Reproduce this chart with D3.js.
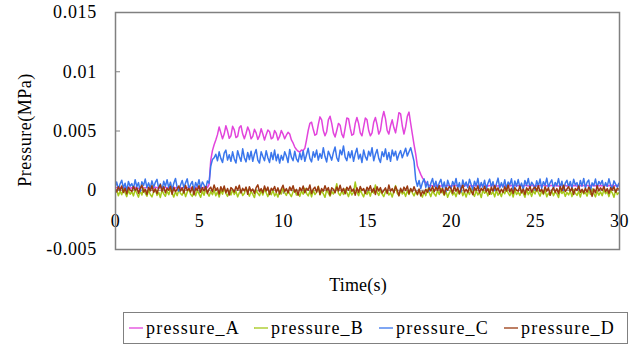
<!DOCTYPE html>
<html>
<head>
<meta charset="utf-8">
<script src="https://cdn.jsdelivr.net/npm/d3@7/dist/d3.min.js"></script>
<style>
  body { margin: 0; background: #fff; }
</style>
</head>
<body>
<div id="chart"></div>
<script>
// pressure readings in units of 1e-5 MPa, one sample every 0.1 s from 0 to 30 s
const pressureA = [
  14,18,12,20,16,11,19,15,22,13,
  17,12,21,15,10,18,23,14,16,20,
  12,19,15,11,22,17,13,20,16,14,
  21,15,18,12,16,23,14,19,11,17,
  15,20,13,18,22,12,17,14,21,16,
  13,19,16,22,14,18,45,250,330,380,
  420,465,530,480,430,470,540,495,435,455,
  535,505,440,450,525,540,470,430,475,530,
  495,430,450,510,480,425,455,515,470,420,
  465,505,490,430,440,500,475,420,450,500,
  470,430,460,485,470,420,395,360,340,325,
  318,335,330,350,420,500,560,570,510,460,
  470,550,615,590,500,455,490,590,620,560,
  480,445,500,560,545,470,440,520,605,600,
  520,460,470,560,610,560,480,455,530,605,
  590,500,455,480,570,610,550,470,500,600,
  660,600,500,470,540,590,525,480,560,650,
  640,540,470,530,620,655,560,470,380,300,
  200,165,130,100,80,60,45,38,35,33,
  36,32,38,34,31,37,35,33,39,34,
  32,36,34,38,33,35,31,37,34,36,
  38,33,35,31,36,34,39,32,35,37,
  34,37,32,36,35,33,38,34,31,36,
  35,31,37,34,38,32,36,35,33,37,
  33,38,34,32,36,37,31,35,38,34,
  36,34,31,37,33,35,38,32,36,34,
  37,33,36,34,31,38,35,33,37,32,
  34,36,38,33,35,31,37,34,36,35,
  32,37,34,36,38,33,35,31,36,34,
  35,33,37,32,36,34,38,35,33,36,
  34
];

const pressureB = [
  -30,0,-50,-12,-42,10,-25,-58,-5,-38,
  -15,-52,2,-30,-62,-8,-45,12,-28,-55,
  -5,-40,-60,-18,8,-48,-22,-65,-2,-35,
  -55,-10,-42,6,-28,-62,-15,-50,0,-32,
  -45,-6,-58,-20,12,-38,-56,-12,-50,-4,
  -35,-64,-10,-46,4,-28,-54,-15,-42,-2,
  -50,-18,-62,-6,-38,14,-30,-56,-10,-44,
  0,-40,-14,-60,-25,-5,-48,-32,16,-22,
  -54,-12,-38,-66,-2,-30,-50,-8,-44,8,
  -26,-58,-14,-42,-4,-52,-28,-62,-10,-36,
  10,-24,-48,-6,-34,-58,-16,0,-44,-26,
  -56,-8,-38,12,-30,-52,-12,-60,-2,-40,
  -22,30,-44,-8,-34,-64,0,-28,-54,-14,
  -36,-4,50,-30,-48,-10,-40,6,-24,-58,
  -8,-44,-22,65,-18,-50,-2,-32,-60,-12,
  -40,-10,-54,0,-28,40,-20,-48,-6,-36,
  -58,-16,-2,-44,-24,-62,-10,35,-30,-50,
  0,-36,-18,-56,-8,-40,8,-26,-52,-12,
  -44,-2,-32,-62,-14,-50,4,-24,-58,-8,
  -34,-54,-6,-40,10,-20,-48,-12,-64,-26,
  -4,-44,-22,-58,-10,-36,6,-50,-18,-62,
  -14,-40,8,-28,-56,-6,-44,-22,-66,0,
  -30,-12,-52,4,-38,-18,-60,-2,-46,-24,
  -58,-8,-34,6,-26,-50,-12,-62,0,-40,
  -20,-48,-4,-30,-64,2,-42,-14,-56,-8,
  -36,8,-24,-54,-10,-40,-2,-60,-28,-46,
  -6,-50,-18,-34,-66,0,-32,-12,-56,-22,
  -44,-8,-58,2,-28,-48,-14,-62,-4,-36,
  -22,-54,-6,-40,8,-30,-60,-12,-46,-18,
  -50,0,-34,-16,-58,-6,-26,-64,-2,-40,
  -24
];

const pressureC = [
  20,65,5,48,80,15,55,-10,70,30,
  52,8,85,25,60,-15,68,35,90,18,
  58,12,75,22,62,88,10,50,-5,72,
  28,85,15,64,0,55,95,20,-12,40,
  78,18,58,92,8,45,70,-8,62,25,
  85,12,66,40,2,74,55,200,255,270,
  300,245,320,265,230,310,335,250,295,240,
  320,260,225,330,280,240,345,270,235,315,
  255,325,240,300,340,250,225,320,280,245,
  330,270,230,315,255,335,245,300,225,290,
  250,320,285,230,340,275,245,325,260,235,
  310,255,330,240,295,350,265,235,320,275,
  335,250,305,265,355,280,235,325,290,250,
  315,360,270,240,335,295,370,275,245,320,
  270,330,240,305,350,260,300,230,335,280,
  250,325,285,355,245,300,340,265,230,320,
  280,345,255,315,240,335,285,325,250,300,
  330,270,310,350,285,320,355,300,240,85,
  30,78,10,60,92,20,70,-10,55,95,
  25,72,5,58,88,15,66,-15,80,40,
  10,70,35,95,12,60,-18,82,30,65,
  18,88,45,0,72,32,96,12,62,22,
  80,5,55,90,25,68,-8,48,98,15,
  60,22,84,8,66,40,92,0,74,28,
  86,18,56,2,78,35,95,15,64,42,
  0,76,30,90,12,68,38,98,20,58,
  84,10,62,35,94,18,72,-5,55,80,
  22,70,12,88,40,60,5,78,30,95,
  15,64,82,-12,58,34,90,20,70,45,
  78,14,60,28,92,38,8,75,48,22,
  60
];

const pressureD = [
  8,-18,25,-6,32,-24,12,-35,20,-2,
  -14,28,-4,16,-30,10,38,-20,4,-40,
  22,-10,34,-22,6,-32,16,42,-12,26,
  -26,12,-4,30,-38,18,-16,6,32,-10,
  16,-28,36,-6,10,-20,26,-42,12,-4,
  34,-22,18,-10,28,-32,6,22,-16,40,
  -6,16,-36,26,-12,32,-26,10,-44,18,
  4,-20,28,-4,38,-28,12,-10,22,-38,
  26,-12,6,-32,18,42,-16,10,-26,32,
  -10,22,-40,12,-4,28,-22,16,-36,6,
  38,-16,10,-28,24,-6,34,-20,4,-46,
  18,-10,32,-26,12,-4,40,-32,6,22,
  -20,28,-38,10,-12,34,-6,18,-44,16,
  4,-26,24,-10,38,-16,12,-34,22,-4,
  32,-12,6,-46,16,-22,28,-6,10,-32,
  22,-4,34,-20,12,-40,26,-10,18,-28,
  -6,16,-32,40,-12,10,-26,28,-4,-50,
  12,-20,22,-6,32,-34,10,-16,26,-10,
  -38,6,-52,-12,-32,4,-22,16,-10,28,
  -16,22,-6,34,-26,12,-40,18,-4,26,
  10,-28,32,-12,16,-34,6,38,-20,4,
  -22,26,-10,-42,18,-4,32,-26,12,-6,
  28,-16,10,-38,22,-12,34,-6,16,-28,
  4,-22,26,-10,40,-18,12,-32,18,-4,
  -12,32,-26,6,-40,16,-6,28,-20,10,
  22,-10,34,-16,4,-32,26,-12,16,-46,
  -4,18,-22,10,-34,28,-10,38,-16,6,
  26,-12,16,-40,10,-6,32,-22,4,-28,
  12,-20,22,-4,-56,6,-26,34,-10,16,
  -6,28,-16,10,-32,18,-4,26,-22,12,
  4
];

const seriesNames = ["pressure_A", "pressure_B", "pressure_C", "pressure_D"];
const seriesValues = [pressureA, pressureB, pressureC, pressureD];
const seriesColors = ["#e244dc", "#a5c81a", "#3a76ec", "#9a3a10"];
const xTicks = [0, 5, 10, 15, 20, 25, 30];
const yTicks = [-0.005, 0, 0.005, 0.01, 0.015];
const sampleStep = 0.1;   // s
const valueUnit = 1e-5;   // MPa

const fontFamily = '"Liberation Serif", "DejaVu Serif", serif';
const width = 639, height = 346;
const margin = { top: 12, left: 115 };
const plotW = 504, plotH = 237;

const svg = d3.select("#chart").append("svg")
  .attr("width", width)
  .attr("height", height)
  .attr("font-family", fontFamily);

const g = svg.append("g")
  .attr("transform", `translate(${margin.left},${margin.top})`);

const x = d3.scaleLinear().domain([0, 30]).range([0, plotW]);
const y = d3.scaleLinear().domain([-0.005, 0.015]).range([plotH, 0]);

svg.append("defs").append("clipPath").attr("id", "plot-clip")
  .append("rect").attr("width", plotW).attr("height", plotH);

// horizontal axis sits on the zero line
const xAxis = g.append("g")
  .attr("transform", `translate(0,${y(0)})`)
  .call(d3.axisBottom(x).tickValues(xTicks).tickSize(4).tickPadding(20).tickFormat(d3.format("d")));
xAxis.attr("font-family", null).attr("font-size", null);
xAxis.select(".domain").attr("stroke", "#808080");
xAxis.selectAll(".tick line").attr("stroke", "#808080");
xAxis.selectAll("text")
  .style("font-family", fontFamily)
  .style("font-size", "18px")
  .attr("letter-spacing", "0.5px");

const yAxis = g.append("g")
  .call(d3.axisLeft(y).tickValues(yTicks).tickSize(-5).tickPadding(18)
    .tickFormat(d => d === 0 ? "0" : String(+d.toFixed(3))));
yAxis.attr("font-family", null).attr("font-size", null);
yAxis.select(".domain").remove();
yAxis.selectAll(".tick line").attr("stroke", "#808080");
yAxis.selectAll("text")
  .style("font-family", fontFamily)
  .style("font-size", "18px")
  .attr("letter-spacing", "0.7px");

// series
const line = d3.line()
  .x((d, i) => x(i * sampleStep))
  .y(d => y(d * valueUnit));

g.append("g").attr("clip-path", "url(#plot-clip)")
  .selectAll("path")
  .data(seriesValues)
  .enter()
  .append("path")
  .attr("d", d => line(d))
  .attr("fill", "none")
  .attr("stroke", (d, i) => seriesColors[i])
  .attr("stroke-width", 1.5)
  .attr("stroke-linejoin", "round");

// plot frame
g.append("rect")
  .attr("x", 0.5).attr("y", 0.5)
  .attr("width", plotW).attr("height", plotH)
  .attr("fill", "none")
  .attr("stroke", "#808080")
  .attr("stroke-width", 1.5);

// axis titles
svg.append("text")
  .attr("transform", "translate(31,130) rotate(-90)")
  .attr("text-anchor", "middle")
  .attr("letter-spacing", "0.5px")
  .style("font-size", "18px")
  .text("Pressure(MPa)");

svg.append("text")
  .attr("x", 358).attr("y", 291)
  .attr("text-anchor", "middle")
  .attr("letter-spacing", "0.2px")
  .style("font-size", "18px")
  .text("Time(s)");

// legend
const legend = svg.append("g");
legend.append("rect")
  .attr("x", 123.5).attr("y", 312.5)
  .attr("width", 504).attr("height", 31)
  .attr("fill", "none")
  .attr("stroke", "#808080");

const legendItem = legend.selectAll(".legend-item")
  .data(seriesNames)
  .enter()
  .append("g")
  .attr("class", "legend-item")
  .attr("transform", (d, i) => `translate(${129 + i * 125},328)`);

legendItem.append("line")
  .attr("x1", 0).attr("x2", 14)
  .attr("stroke", (d, i) => seriesColors[i])
  .attr("stroke-width", 1.3);

legendItem.append("text")
  .attr("x", 17).attr("y", 6)
  .attr("letter-spacing", "1.2px")
  .style("font-size", "18px")
  .text(d => d);
</script>
</body>
</html>
